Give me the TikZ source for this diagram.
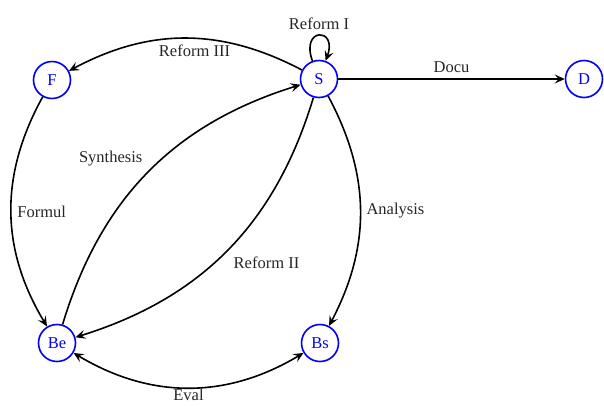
\documentclass[tikz,border=0pt]{standalone}
\usepackage{fontspec}
\setmainfont{Liberation Serif}
\usetikzlibrary{arrows.meta}
\usetikzlibrary{positioning}
\tikzstyle{base}=[x=1pt, y=-1pt, >={Stealth[length=10pt, width=9pt, inset=4pt]}, line width=1.6pt]
\tikzstyle{phase}=[circle, draw=blue, text=blue, minimum size=37pt, inner sep=0pt, line width=1.6pt]
\tikzstyle{step lbl}=[font=\fontsize{16.5}{19}\selectfont, text=black!85]

\begin{document}
\begin{tikzpicture}[base]
    \fontsize{16.5}{19}\selectfont
        \path [use as bounding box] (0,0) rectangle (604,405);
        \node [phase] (F) at (52,80) {F};
        \node [phase] (S) at (319,79) {S};
        \node [phase] (D) at (584,79) {D};
        \node [phase] (Be) at (57,343) {Be};
        \node [phase] (Bs) at (320,343) {Bs};
        % transitions
        \draw [->] (S) to [bend right=28] node [step lbl, below, pos=0.46] {Reform III} (F);
        \draw [->] (S) to [out=110, in=70, looseness=7] node [step lbl, above] {Reform I} (S);
        \draw [->] (S) -- node [step lbl, above] {Docu} (D);
        \draw [->] (F) to [bend right=30] node [step lbl, right] {Formul} (Be);
        \draw [->] (Be) to [bend left=28] node [step lbl, above left, pos=0.5] {Synthesis} (S);
        \draw [->] (S) to [bend left=28] node [step lbl, below right, pos=0.5] {Reform II} (Be);
        \draw [->] (S) to [bend left=28] node [step lbl, right] {Analysis} (Bs);
        \draw [<->] (Be) to [bend right=31] node [step lbl, below, inner sep=1pt] {Eval} (Bs);
    \end{tikzpicture}
\end{document}
